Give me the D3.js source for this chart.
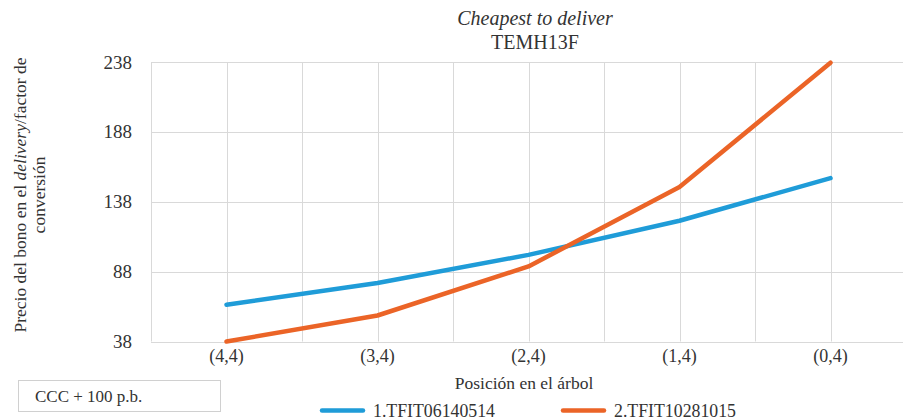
<!DOCTYPE html>
<html>
<head>
<meta charset="utf-8">
<script src="https://cdn.jsdelivr.net/npm/d3@7"></script>
<style>
  html, body { margin: 0; padding: 0; background: #fff; }
  svg { display: block; }
</style>
</head>
<body>
<svg id="chart" width="903" height="420"></svg>
<script>
// Tree positions and bond prices divided by conversion factor
const categories = ["(4,4)", "(3,4)", "(2,4)", "(1,4)", "(0,4)"];
const seriesNames = ["1.TFIT06140514", "2.TFIT10281015"];
const bond1 = [64.3, 79.8, 100, 124.4, 154.9];
const bond2 = [38, 56.6, 91.7, 148.5, 237.5];
const yTicks = [38, 88, 138, 188, 238];
const colors = ["#1f9cd8", "#eb6427"];

const FONT = "'Liberation Serif', 'Times New Roman', Times, serif";
const svg = d3.select("#chart").style("font-family", FONT);
const margin = { left: 151, right: -3, top: 62, bottom: 78 };
const W = 903, H = 420;

const x = d3.scaleBand().domain(categories).range([margin.left, W - margin.right]);
const y = d3.scaleLinear().domain([38, 238]).range([341.5, 62]);

// Gridlines: horizontal at each tick, vertical at band edges and band centres
const grid = svg.append("g").attr("stroke", "#d9d9d9").attr("stroke-width", 1);
yTicks.forEach(t => {
  grid.append("line").attr("x1", margin.left).attr("x2", W)
    .attr("y1", Math.round(y(t)) + 0.5).attr("y2", Math.round(y(t)) + 0.5);
});
const vx = [];
categories.forEach(c => { vx.push(x(c)); vx.push(x(c) + x.bandwidth() / 2); });
vx.forEach(v => {
  grid.append("line").attr("x1", Math.round(v) + 0.5).attr("x2", Math.round(v) + 0.5)
    .attr("y1", y(238)).attr("y2", y(38));
});

// Y axis labels
const yAxis = d3.axisLeft(y).tickValues(yTicks).tickSize(0).tickPadding(19);
const gy = svg.append("g").attr("transform", `translate(${margin.left},0)`).call(yAxis)
  .attr("font-family", null).attr("font-size", 19);
gy.select(".domain").remove();
gy.selectAll("text").attr("fill", "#333").style("font-family", FONT);

// X axis labels
const xAxis = d3.axisBottom(x).tickSize(0).tickPadding(8);
const gx = svg.append("g").attr("transform", `translate(0,${y(38)})`).call(xAxis)
  .attr("font-family", null).attr("font-size", 18);
gx.select(".domain").remove();
gx.selectAll("text").attr("fill", "#333").style("font-family", FONT);

// Series lines
const line = d3.line().x((d, i) => x(categories[i]) + x.bandwidth() / 2).y(d => y(d));
[bond1, bond2].forEach((s, i) => {
  svg.append("path").datum(s).attr("d", line)
    .attr("fill", "none").attr("stroke", colors[i]).attr("stroke-width", 4.5)
    .attr("stroke-linejoin", "round").attr("stroke-linecap", "round");
});

// Titles
const plotCx = 535;
svg.append("text").attr("x", plotCx).attr("y", 25).attr("text-anchor", "middle")
  .style("font-family", FONT).attr("font-size", 20).attr("font-style", "italic").attr("fill", "#333")
  .text("Cheapest to deliver");
svg.append("text").attr("x", plotCx).attr("y", 48.5).attr("text-anchor", "middle")
  .style("font-family", FONT).attr("font-size", 20).attr("fill", "#333").text("TEMH13F");

// Y axis title (two lines, rotated)
const yt = svg.append("text").attr("transform", "translate(26,195) rotate(-90)")
  .attr("text-anchor", "middle").style("font-family", FONT).attr("font-size", 17.5).attr("fill", "#333");
const l1 = yt.append("tspan").attr("x", 0).attr("y", 0);
l1.append("tspan").text("Precio del bono en el ");
l1.append("tspan").attr("font-style", "italic").text("delivery");
l1.append("tspan").text("/factor de");
yt.append("tspan").attr("x", 0).attr("y", 19).text("conversión");

// X axis title
svg.append("text").attr("x", 524).attr("y", 389).attr("text-anchor", "middle")
  .style("font-family", FONT).attr("font-size", 17.5).attr("fill", "#333").text("Posición en el árbol");

// Legend
const legend = svg.append("g");
const legX = [322, 563];
seriesNames.forEach((n, i) => {
  legend.append("line").attr("x1", legX[i]).attr("x2", legX[i] + 41)
    .attr("y1", 410.5).attr("y2", 410.5).attr("stroke", colors[i]).attr("stroke-width", 4.5)
    .attr("stroke-linecap", "round");
  legend.append("text").attr("x", legX[i] + 51).attr("y", 417).style("font-family", FONT)
    .attr("font-size", 17.8).attr("fill", "#333").text(n);
});

// Annotation box
svg.append("rect").attr("x", 18.5).attr("y", 380.5).attr("width", 202).attr("height", 31)
  .attr("fill", "#fff").attr("stroke", "#d0d0d0").attr("stroke-width", 1);
svg.append("text").attr("x", 35).attr("y", 401.5).style("font-family", FONT)
  .attr("font-size", 17).attr("fill", "#333").text("CCC + 100 p.b.");
</script>
</body>
</html>
